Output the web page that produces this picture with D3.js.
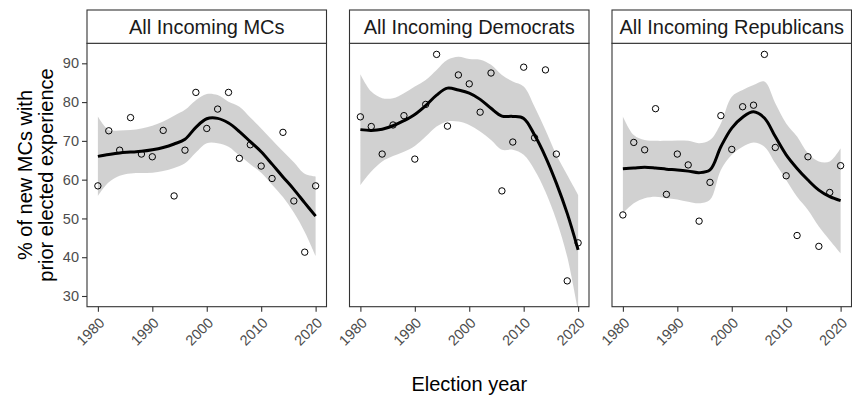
<!DOCTYPE html>
<html>
<head>
<meta charset="utf-8">
<script src="https://cdn.jsdelivr.net/npm/d3@7"></script>
<style>
  html, body { margin: 0; padding: 0; background: #fff; }
  svg { display: block; }
  text { font-family: "Liberation Sans", Arial, Helvetica, sans-serif; }
</style>
</head>
<body>
<svg id="chart" width="852" height="401"></svg>
<script>
// ---------- DATA ----------
const years = [1980,1982,1984,1986,1988,1990,1992,1994,1996,1998,2000,2002,2004,2006,2008,2010,2012,2014,2016,2018,2020];
const panelTitles = ["All Incoming MCs", "All Incoming Democrats", "All Incoming Republicans"];

// observed shares (points)
const allPoints = [58.4,72.6,67.6,76.0,66.6,65.9,72.7,55.8,67.6,82.5,73.2,78.2,82.5,65.5,69.0,63.5,60.3,72.2,54.5,41.3,58.4];
const demPoints = [76.2,73.7,66.6,74.1,76.5,65.3,79.4,92.3,73.8,87.0,84.7,77.4,87.5,57.1,69.7,89.0,70.8,88.3,66.6,33.9,43.7];
const repPoints = [50.9,69.6,67.7,78.3,56.2,66.6,63.8,49.3,59.3,76.5,67.8,78.8,79.2,92.3,68.3,61.0,45.6,65.9,42.8,56.7,63.6];

// smoothed fit
const allFit = [66.0,66.5,66.9,67.1,67.3,67.7,68.3,69.2,70.4,73.5,75.7,75.8,74.6,72.4,69.8,67.2,64.0,60.7,57.5,54.0,50.6];
const demFit = [72.9,72.7,73.0,73.9,75.2,76.8,79.1,81.8,83.6,83.1,82.3,80.7,78.4,76.4,76.3,75.8,71.5,65.9,59.1,51.3,41.9];
const repFit = [62.8,63.0,63.2,63.0,62.7,62.5,62.2,61.8,62.5,68.5,73.3,76.1,77.5,75.9,71.1,66.4,62.9,59.9,57.3,55.6,54.6];

// confidence band upper / lower
const allUpper = [76.3,72.8,72.7,72.8,73.2,73.9,75.0,76.5,78.0,80.5,82.1,81.8,80.1,78.8,76.0,73.2,70.2,67.3,64.5,61.5,60.8];
const allLower = [55.8,59.3,61.0,61.6,61.7,61.8,62.2,63.0,64.2,67.0,69.4,69.4,68.5,66.2,64.0,61.8,58.7,55.5,51.5,46.5,40.3];
const demUpper = [87.2,82.7,81.0,81.0,82.3,84.0,85.7,88.3,90.9,91.7,91.1,90.9,89.6,87.0,85.3,84.0,78.8,72.8,66.4,61.2,56.1];
const demLower = [58.6,62.1,64.7,66.1,67.2,68.7,71.1,73.7,75.0,75.0,74.1,72.4,70.2,67.7,67.7,66.4,62.5,56.9,49.6,40.1,26.0];
const repUpper = [76.3,71.5,70.2,70.0,70.0,70.1,70.0,69.4,70.2,74.5,81.4,83.1,84.4,85.3,79.7,74.5,71.1,66.8,64.7,64.7,68.1];
const repLower = [51.3,53.9,55.2,55.6,55.2,54.9,54.3,53.9,54.8,62.5,66.4,68.5,69.6,68.5,64.2,59.9,55.6,52.2,47.9,44.4,41.0];

const xTicks = [1980,1990,2000,2010,2020];
const yTicks = [30,40,50,60,70,80,90];
const xTitle = "Election year";
const yTitle = ["% of new MCs with", "prior elected experience"];

// ---------- LAYOUT ----------
const panels = [
  {title: panelTitles[0], pts: allPoints, fit: allFit, up: allUpper, lo: allLower},
  {title: panelTitles[1], pts: demPoints, fit: demFit, up: demUpper, lo: demLower},
  {title: panelTitles[2], pts: repPoints, fit: repFit, up: repUpper, lo: repLower}
];
const panelLeft = [87, 349.5, 612];
const panelW = 239.5;
const plotTop = 43.3, plotBottom = 306.7, stripTop = 10;

const svg = d3.select("#chart");
const y = d3.scaleLinear().domain([27.24, 95.16]).range([plotBottom, plotTop]);

const defs = svg.append("defs");

panels.forEach((p, i) => {
  const x0 = panelLeft[i];
  const x = d3.scaleLinear().domain([1978, 2022]).range([x0, x0 + panelW]);
  const g = svg.append("g");

  defs.append("clipPath").attr("id", "clip" + i)
    .append("rect").attr("x", x0).attr("y", plotTop).attr("width", panelW).attr("height", plotBottom - plotTop);

  const inner = g.append("g").attr("clip-path", `url(#clip${i})`);

  const rows = years.map((yr, k) => ({yr, v: p.pts[k], f: p.fit[k], u: p.up[k], l: p.lo[k]}));

  const area = d3.area().curve(d3.curveCatmullRom.alpha(0.5))
    .x(d => x(d.yr)).y0(d => y(d.l)).y1(d => y(d.u));
  inner.append("path").datum(rows).attr("d", area)
    .attr("fill", "#999999").attr("fill-opacity", 0.45).attr("stroke", "none");

  const line = d3.line().curve(d3.curveCatmullRom.alpha(0.5))
    .x(d => x(d.yr)).y(d => y(d.f));
  inner.append("path").datum(rows).attr("d", line)
    .attr("fill", "none").attr("stroke", "#000").attr("stroke-width", 3)
    .attr("stroke-linejoin", "round");

  inner.selectAll("circle").data(rows).join("circle")
    .attr("cx", d => x(d.yr)).attr("cy", d => y(d.v)).attr("r", 3.2)
    .attr("fill", "none").attr("stroke", "#000").attr("stroke-width", 1);

  // panel border
  g.append("rect").attr("x", x0).attr("y", plotTop).attr("width", panelW).attr("height", plotBottom - plotTop)
    .attr("fill", "none").attr("stroke", "#333").attr("stroke-width", 1.1);

  // strip
  g.append("rect").attr("x", x0).attr("y", stripTop).attr("width", panelW).attr("height", plotTop - stripTop)
    .attr("fill", "#fff").attr("stroke", "#333").attr("stroke-width", 1.1);
  g.append("text").attr("x", x0 + panelW / 2).attr("y", (stripTop + plotTop) / 2 + 7)
    .attr("text-anchor", "middle").attr("font-size", 20).attr("fill", "#1a1a1a").text(p.title);

  // x axis
  const xa = g.append("g").attr("transform", `translate(0,${plotBottom})`)
    .call(d3.axisBottom(x).tickValues(xTicks).tickFormat(d3.format("d")).tickSize(5).tickSizeOuter(0));
  xa.select(".domain").remove();
  xa.selectAll("line").attr("stroke", "#333").attr("stroke-width", 1.1);
  xa.selectAll("text").attr("font-size", 14.5).attr("fill", "#4d4d4d")
    .attr("text-anchor", "end").attr("dy", null).attr("y", null)
    .attr("transform", "translate(7,17) rotate(-45)");

  if (i === 0) {
    const ya = g.append("g").attr("transform", `translate(${x0},0)`)
      .call(d3.axisLeft(y).tickValues(yTicks).tickSize(5).tickPadding(3).tickSizeOuter(0));
    ya.select(".domain").remove();
    ya.selectAll("line").attr("stroke", "#333").attr("stroke-width", 1.1);
    ya.selectAll("text").attr("font-size", 14.5).attr("fill", "#4d4d4d");
  }
});

// titles
const midX = (panelLeft[0] + panelLeft[2] + panelW) / 2;
svg.append("text").attr("x", midX).attr("y", 391).attr("text-anchor", "middle")
  .attr("font-size", 20).attr("fill", "#000").text(xTitle);

const yt = svg.append("text").attr("transform", `translate(0,${(plotTop + plotBottom) / 2}) rotate(-90)`)
  .attr("text-anchor", "middle").attr("font-size", 20).attr("fill", "#000");
yt.append("tspan").attr("x", 0).attr("y", 32).text(yTitle[0]);
yt.append("tspan").attr("x", 0).attr("y", 53).text(yTitle[1]);
</script>
</body>
</html>
